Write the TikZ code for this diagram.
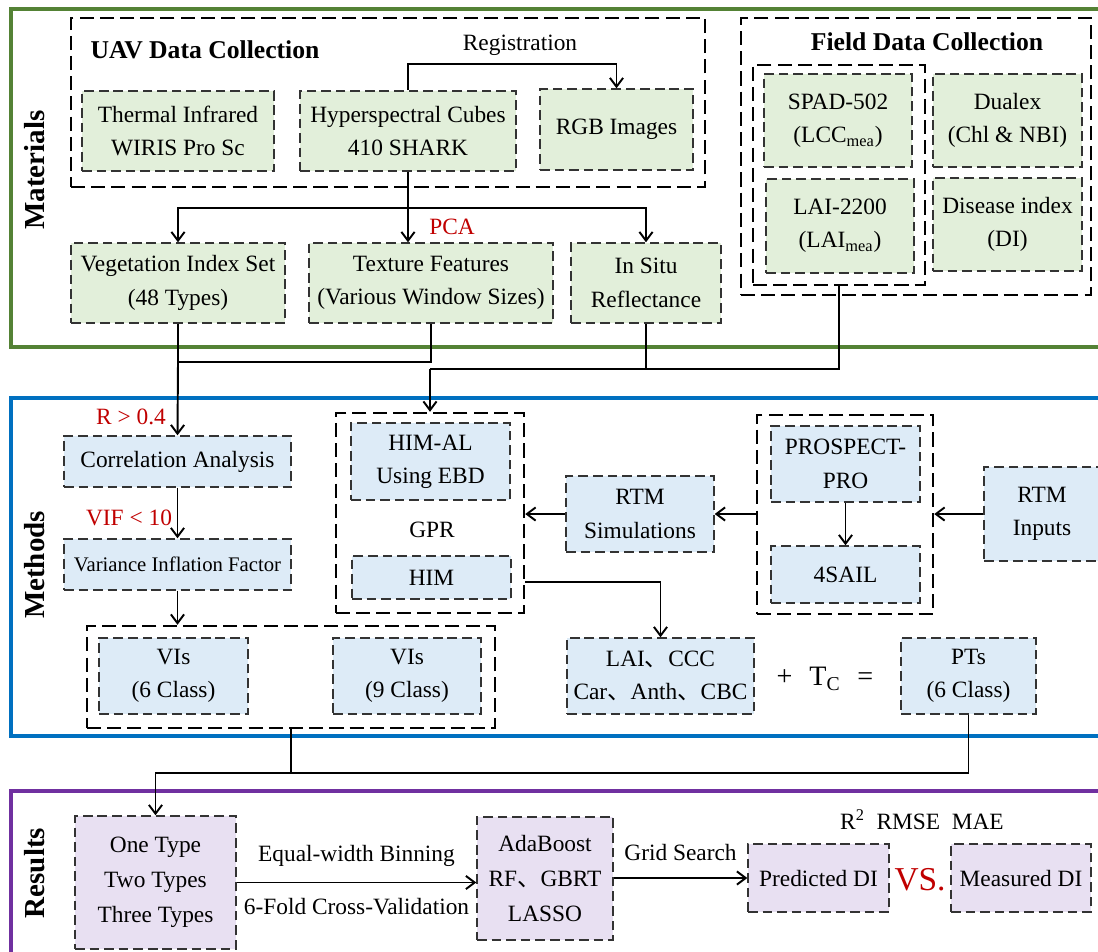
\documentclass[tikz,border=0pt]{standalone}
\usepackage{fontspec}
\setmainfont{Liberation Serif}
\newfontfamily\cjk{Noto Sans CJK SC}
\usetikzlibrary{arrows.meta, positioning, calc}
\definecolor{matgreen}{RGB}{84,130,53}
\definecolor{metblue}{RGB}{0,112,192}
\definecolor{respurple}{RGB}{112,48,160}
\definecolor{fillg}{RGB}{226,239,218}
\definecolor{fillb}{RGB}{221,235,247}
\definecolor{fillp}{RGB}{232,224,242}
\definecolor{hired}{RGB}{192,0,0}
\newcommand{\dun}{{\cjk 、}}

\begin{document}
\begin{tikzpicture}[x=0.02cm, y=-0.02cm,
    font=\fontsize{13.3}{19}\selectfont,
    sz/.style 2 args={minimum width=#1*0.02cm, minimum height=#2*0.02cm},
    cell/.style={rectangle, draw=black!80, line width=0.8pt, dash pattern=on 5.5pt off 2.8pt, align=center, inner sep=1pt},
    gbox/.style={cell, fill=fillg},
    bbox/.style={cell, fill=fillb},
    pbox/.style={cell, fill=fillp},
    grp/.style={rectangle, draw, line width=1.4pt, dash pattern=on 8pt off 3.5pt, inner sep=0pt},
    sec/.style={line width=1.8pt},
    head/.style={font=\fontsize{14.6}{17}\selectfont\bfseries},
    side/.style={font=\fontsize{16.5}{19}\selectfont\bfseries, rotate=90},
    note/.style={text=hired},
    wire/.style={line width=1.1pt},
    arr/.style={wire, -{Straight Barb[length=5pt, width=7.5pt]}}]
  \clip (0,0) rectangle (1098,951);
  % sections
  \draw[sec, matgreen] (11,9) rectangle (1115,347);
  \draw[sec, metblue] (11,398) rectangle (1115,736);
  \draw[sec, respurple] (11,791) rectangle (1115,1000);
  \node[side] (matl) at (35,170) {Materials};
  \node[side] (metl) at (35,565) {Methods};
  \node[side] (resl) at (35,873) {Results};

  % Materials
  \node[grp, sz={634}{169}] (uav) at (388,102.5) {};
  \node[head] (uavt) at (205,50) {UAV Data Collection};
  \node (regt) at (520,45) {Registration};
  \node[gbox, sz={192}{80}] (therm) at (178,131) {Thermal Infrared\\WIRIS Pro Sc};
  \node[gbox, sz={216}{80}] (hyper) at (408,131) {Hyperspectral Cubes\\410 SHARK};
  \node[gbox, sz={153}{81}] (rgb) at (616.5,129.5) {RGB Images};

  \node[grp, sz={350}{277}] (field) at (916,156.5) {};
  \node[head] (fieldt) at (927,42) {Field Data Collection};
  \node[grp, sz={172}{220}] (fgrp) at (839,175) {};
  \node[gbox, sz={148}{93}] (spad) at (838,120.5) {SPAD-502\\(LCC\textsubscript{mea})};
  \node[gbox, sz={148}{94}] (lai) at (840,226) {LAI-2200\\(LAI\textsubscript{mea})};
  \node[gbox, sz={149}{93}] (dualex) at (1007.5,120.5) {Dualex\\(Chl \& NBI)};
  \node[gbox, sz={149}{93}] (di) at (1007.5,224.5) {Disease index\\(DI)};

  \node[gbox, sz={214}{80}] (veg) at (178,283) {Vegetation Index Set\\(48 Types)};
  \node[gbox, sz={244}{80}] (tex) at (431,283) {Texture Features\\(Various Window Sizes)};
  \node[gbox, sz={150}{80}] (insitu) at (646,283) {In Situ\\Reflectance};
  \node[note] (pca) at (452,227) {PCA};

  % Methods
  \node[note] (rt) at (131,417) {R > 0.4};
  \node[note] (vt) at (129,518) {VIF < 10};
  \node[bbox, sz={227}{51}] (corr) at (177.5,461.5) {Correlation Analysis};
  \node[bbox, sz={227}{51}, font=\fontsize{11.8}{14}\selectfont] (vif) at (177.5,564.5) {Variance Inflation Factor};
  \node[grp, sz={408}{102}] (visg) at (291,677) {};
  \node[bbox, sz={149}{76}] (vis6) at (173.5,676) {VIs\\(6 Class)};
  \node[bbox, sz={148}{76}] (vis9) at (407,676) {VIs\\(9 Class)};

  \node[grp, sz={188}{200}] (gpr) at (430,513) {};
  \node[bbox, sz={159}{77}] (himal) at (430.5,461.5) {HIM-AL\\Using EBD};
  \node (gprt) at (432,530) {GPR};
  \node[bbox, sz={159}{43}] (him) at (431.5,577.5) {HIM};
  \node[bbox, sz={148}{76}] (rtmsim) at (640,514) {RTM\\Simulations};
  \node[grp, sz={176}{199}] (prosg) at (845,514.5) {};
  \node[bbox, sz={149}{76}] (prospect) at (845.5,464) {PROSPECT-\\PRO};
  \node[bbox, sz={149}{57}] (sail) at (845.5,574.5) {4SAIL};
  \node[bbox, sz={116}{94}] (rtmin) at (1042,514) {RTM\\Inputs};
  \node[bbox, sz={187}{76}] (laiccc) at (660.5,676) {LAI\dun CCC\\Car\dun Anth\dun CBC};
  \node (eqn) at (825,679) {\fontsize{16}{19}\selectfont +\hspace{0.6em}T\textsubscript{C}\hspace{0.6em}=};
  \node[bbox, sz={135}{76}] (pts) at (968.5,676) {PTs\\(6 Class)};

  % Results
  \node[pbox, sz={161}{133}, font=\fontsize{13.3}{20}\selectfont] (types) at (155.5,882.5) {One Type\\Two Types\\Three Types};
  \node[pbox, sz={136}{123}, font=\fontsize{13.3}{20}\selectfont] (ml) at (545,878.5) {AdaBoost\\RF\dun GBRT\\LASSO};
  \node[pbox, sz={141}{68}] (pred) at (818.5,878) {Predicted DI};
  \node[pbox, sz={140}{68}] (meas) at (1021,878) {Measured DI};
  \node[note, font=\fontsize{19}{22}\selectfont] (vs) at (920,880) {VS.};
  \node (metric) at (922,820) {R\textsuperscript{2}\enskip RMSE\enskip MAE};

  % connectors
  \coordinate (split) at (408,208);
  \coordinate (j1) at (178,362);
  \coordinate (j2) at (430,369);
  \coordinate (j3) at (291,773);
  \draw[arr] (hyper.north) -- (hyper.north |- 0,64) -| (rgb.north);
  \draw[wire] (hyper.south) -- (split);
  \draw[arr] (split) -| (veg.north);
  \draw[arr] (split) -- (split |- tex.north);
  \draw[arr] (split) -| (insitu.north);
  \draw[wire] (veg.south) -- (j1) -| (tex.south);
  \draw[arr] (j1) -- (corr.north);
  \draw[wire] (insitu.south) |- (j2);
  \draw[wire] (fgrp.south) |- (j2);
  \draw[arr] (j2) -- (gpr.north);
  \draw[arr] (corr) -- (vif);
  \draw[arr] (vif.south) -- (vif.south |- visg.north);
  \draw[arr] (prospect) -- (sail);
  \draw[arr] (rtmin.west) -- (prosg.east |- rtmin.west);
  \draw[arr] (prosg.west |- rtmsim.east) -- (rtmsim.east);
  \draw[arr] (rtmsim.west) -- (gpr.east |- rtmsim.west);
  \draw[arr] (gpr.east |- 0,582) -| (laiccc.north);
  \draw[wire] (visg.south) -- (j3);
  \draw[wire] (pts.south) |- (j3);
  \draw[arr] (j3) -| (types.north);
  \draw[arr] (types.east) -- (types.east -| ml.west)
    node[midway, above=5pt] {Equal-width Binning}
    node[midway, below=5pt] {6-Fold Cross-Validation};
  \draw[arr] (ml.east |- pred.west) -- (pred.west)
    node[midway, above=6pt] {Grid Search};
\end{tikzpicture}
\end{document}
